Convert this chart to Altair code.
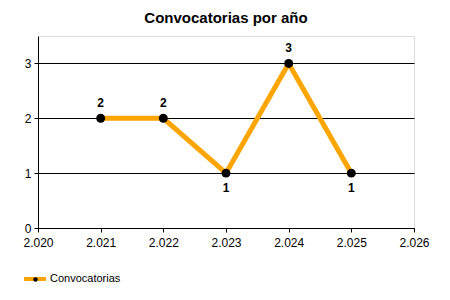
import altair as alt
import pandas as pd

years = [2021, 2022, 2023, 2024, 2025]
counts = [2, 2, 1, 3, 1]
series_name = "Convocatorias"
x_ticks = [2020, 2021, 2022, 2023, 2024, 2025, 2026]
y_ticks = [0, 1, 2, 3]

df = pd.DataFrame({"anio": years, "n": counts, "serie": [series_name] * len(years)})
df["serie2"] = df["serie"]

FONT = "Liberation Sans"
ORANGE = "#FFA500"

base = alt.Chart(df)

x = alt.X("anio:Q", scale=alt.Scale(domain=[2020, 2026], nice=False, zero=False),
          axis=alt.Axis(values=x_ticks, title=None, grid=False, domainColor="black",
                        tickColor="black", tickSize=4, labelColor="black", labelFontSize=12,
                        labelFont=FONT, labelPadding=5, labelFlush=False,
                        labelExpr="replace(format(datum.value, ','), ',', '.')"))
y = alt.Y("n:Q", scale=alt.Scale(domain=[0, 3.5], nice=False),
          axis=alt.Axis(values=y_ticks, title=None, grid=True, gridColor="black",
                        gridOpacity=1, domainColor="black", tickColor="black", tickSize=4,
                        labelColor="black", labelFontSize=12, labelFont=FONT, labelPadding=3))

line = base.mark_line(strokeWidth=5).encode(
    x=x, y=y,
    color=alt.Color("serie:N", scale=alt.Scale(range=[ORANGE]),
                    legend=alt.Legend(orient="none", legendX=-16, legendY=230, title=None,
                                      symbolType="stroke", symbolStrokeWidth=4, symbolSize=484,
                                      labelFont=FONT, labelFontSize=11, labelColor="black",
                                      labelOffset=2)),
)

points = base.mark_point(filled=True, size=80, opacity=1, color="black").encode(
    x=x, y=y,
    shape=alt.Shape("serie2:N", scale=alt.Scale(range=["circle"]),
                    legend=alt.Legend(orient="none", legendX=-8, legendY=238, title=None,
                                      symbolFillColor="black", symbolStrokeColor="black",
                                      symbolSize=20, labelExpr="''",
                                      labelFont=FONT, labelFontSize=11)),
)

above = base.transform_filter("datum.n >= 2").mark_text(
    font=FONT, fontSize=12, fontWeight="bold", color="black", dy=-15
).encode(x=x, y=y, text="n:Q")

below = base.transform_filter("datum.n < 2").mark_text(
    font=FONT, fontSize=12, fontWeight="bold", color="black", dy=15
).encode(x=x, y=y, text="n:Q")

chart = alt.layer(line, points, above, below).properties(
    width=376, height=192,
    title=alt.TitleParams("Convocatorias por año", font=FONT, fontSize=15, fontWeight="bold",
                          color="black", anchor="middle", offset=10),
    autosize=alt.AutoSizeParams(type="none"),
    padding={"left": 38, "top": 36, "right": 36, "bottom": 72},
).configure_view(stroke=None).configure(background="white")

chart.save("out.html", embed_options={"renderer": "svg", "actions": False})
